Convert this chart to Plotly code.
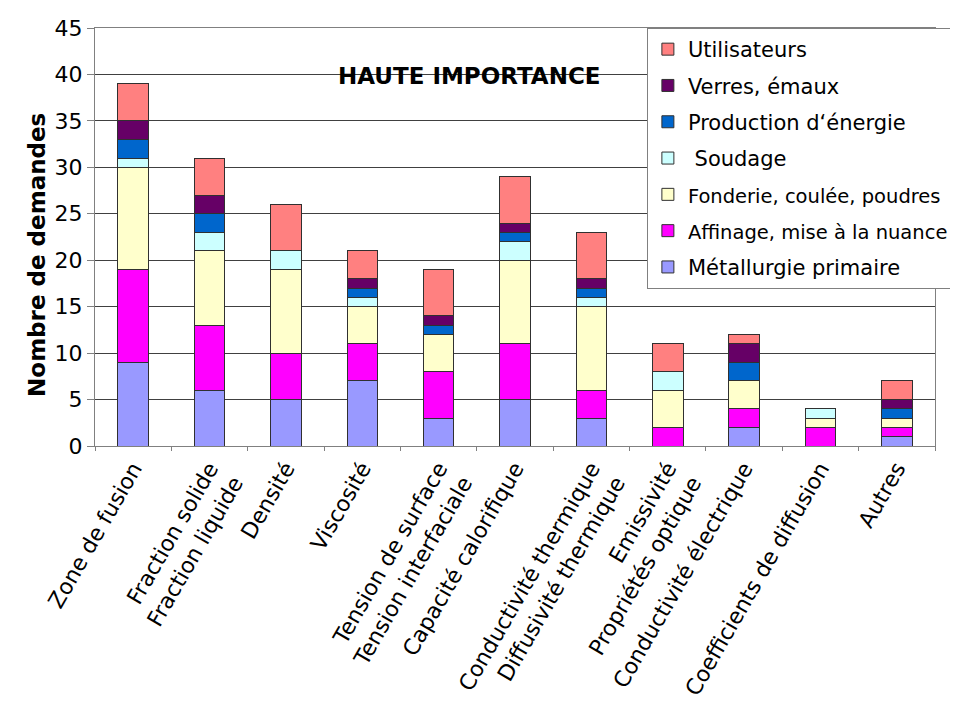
import plotly.graph_objects as go

categories = [
    "Zone de fusion",
    "Fraction solide<br>Fraction liquide",
    "Densité",
    "Viscosité",
    "Tension de surface<br>Tension interfaciale",
    "Capacité calorifique",
    "Conductivité thermique<br>Diffusivité thermique",
    "Emissivité<br>Propriétés optique",
    "Conductivité électrique",
    "Coefficients de diffusion",
    "Autres",
]

metallurgie = [9, 6, 5, 7, 3, 5, 3, 0, 2, 0, 1]
affinage    = [10, 7, 5, 4, 5, 6, 3, 2, 2, 2, 1]
fonderie    = [11, 8, 9, 4, 4, 9, 9, 4, 3, 1, 1]
soudage     = [1, 2, 2, 1, 0, 2, 1, 2, 0, 1, 0]
production  = [2, 2, 0, 1, 1, 1, 1, 0, 2, 0, 1]
verres      = [2, 2, 0, 1, 1, 1, 1, 0, 2, 0, 1]
utilisateurs = [4, 4, 5, 3, 5, 5, 5, 3, 1, 0, 2]

series = [
    ("Métallurgie primaire", metallurgie, "#9999FF"),
    ("<span style='font-size:19.5px'>Affinage, mise à la nuance</span>", affinage, "#FF00FF"),
    ("<span style='font-size:19.5px'>Fonderie, coulée, poudres</span>", fonderie, "#FFFFCC"),
    (" Soudage", soudage, "#CCFFFF"),
    ("Production d‘énergie", production, "#0066CC"),
    ("Verres, émaux", verres, "#660066"),
    ("Utilisateurs", utilisateurs, "#FF8080"),
]

FONT = "DejaVu Sans"

fig = go.Figure()
n = len(series)
for i, (name, vals, col) in enumerate(series):
    fig.add_trace(go.Bar(
        x=categories, y=vals, name=name, legendgroup=f"g{i}", legendrank=n - i,
        marker=dict(color=col, line=dict(color="#303030", width=1)),
        width=0.4,
    ))

# page body has an 8px default margin, so the figure is sized/offset to compensate
fig.update_layout(
    barmode="stack",
    width=950, height=701,
    margin=dict(l=87, r=23, t=20, b=263, autoexpand=False),
    paper_bgcolor="white", plot_bgcolor="white",
    font=dict(family=FONT, color="black"),
    showlegend=True,
    legend=dict(
        x=0.657, xanchor="left", y=1.0, yanchor="top",
        traceorder="grouped", tracegroupgap=6,
        bgcolor="white", bordercolor="#808080", borderwidth=1,
        font=dict(family=FONT, size=21, color="black"),
    ),
    annotations=[
        dict(
            text="<b>HAUTE IMPORTANCE</b>", x=0.446, y=0.921,
            xref="paper", yref="paper", showarrow=False,
            font=dict(family=FONT, size=23, color="black"),
        ),
        dict(
            text="<b>Nombre de demandes</b>", x=-0.087, y=0.457,
            xref="paper", yref="paper", showarrow=False, textangle=-90,
            font=dict(family=FONT, size=23, color="black"),
        ),
    ],
)

fig.update_yaxes(
    range=[0, 45], dtick=5, tickfont=dict(family=FONT, size=22),
    showgrid=True, gridcolor="#404040", gridwidth=1,
    showline=True, linecolor="#808080", mirror=True,
    ticks="outside", ticklen=7, tickcolor="#808080", automargin=False,
)
fig.update_xaxes(
    tickangle=-60, tickfont=dict(family=FONT, size=22),
    showline=True, linecolor="#808080", mirror=True, automargin=False,
    ticks="outside", ticklen=4, tickcolor="#808080", tickson="boundaries",
)

fig.write_html("out.html")
